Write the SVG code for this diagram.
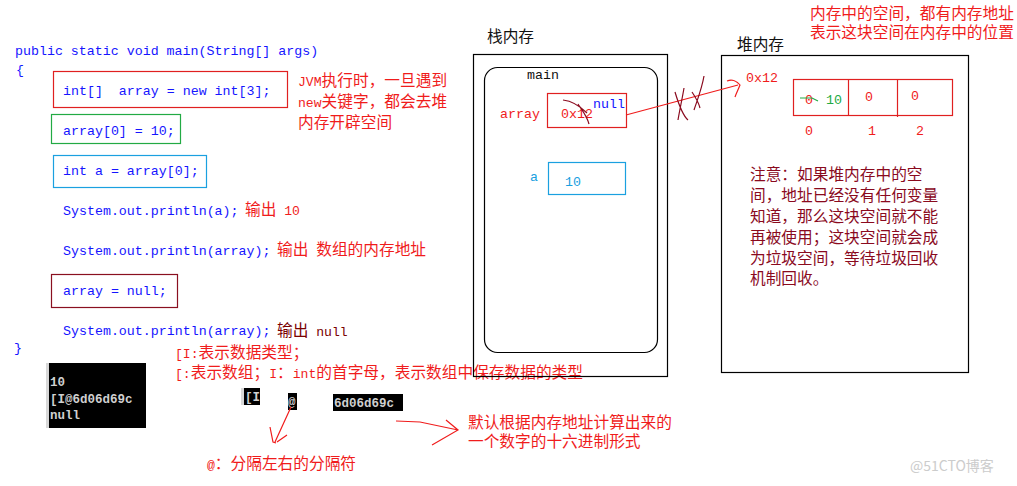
<svg xmlns="http://www.w3.org/2000/svg" width="1017" height="486" viewBox="0 0 1017 486">
<style>
.code{font-family:"Liberation Mono","Noto Sans CJK SC",monospace;font-size:13.3px;fill:#1515ff}
.cn{font-family:"Noto Sans CJK SC",sans-serif;font-size:15.7px}
.l{font-family:"Liberation Mono",monospace;font-size:13.1px}
.red{fill:#f01c1c}
.dred{fill:#8a0a1e}
.blk{fill:#111}
.mono{font-family:"Liberation Mono","Noto Sans CJK SC",monospace;font-size:13.3px}
.con{font-family:"Liberation Mono",monospace;font-size:12.5px;font-weight:bold;fill:#d0d0d0}
.box{fill:none;stroke-width:1.2}
.frame{fill:none;stroke:#000;stroke-width:1.2}
.rl{fill:none;stroke:#f01c1c;stroke-width:1.2}
.scr{fill:none;stroke:#8a0a1e;stroke-width:1.2}
</style>

<g id="code">
<text class="code" x="15" y="55">public static void main(String[] args)</text>
<text class="code" x="16" y="74">{</text>
<g id="line1"><rect class="box" x="53.5" y="71.5" width="234" height="36" stroke="#e02020"/><text class="code" x="63" y="95" xml:space="preserve">int[]  array = new int[3];</text></g>
<g id="line2"><rect class="box" x="51.5" y="114.5" width="129" height="29" stroke="#22aa44"/><text class="code" x="63" y="135">array[0] = 10;</text></g>
<g id="line3"><rect class="box" x="53.5" y="155.5" width="153" height="32" stroke="#1aa0e0"/><text class="code" x="63" y="175">int a = array[0];</text></g>
<text class="code" x="63" y="215">System.out.println(a);</text>
<text class="cn red" x="245" y="215" xml:space="preserve">输出<tspan class="l"> 10</tspan></text>
<text class="code" x="63" y="255">System.out.println(array);</text>
<text class="cn red" x="277" y="255" xml:space="preserve">输出<tspan class="l"> </tspan>数组的内存地址</text>
<g id="line6"><rect class="box" x="51.5" y="274.5" width="126" height="33" stroke="#8a1020"/><text class="code" x="63" y="295">array = null;</text></g>
<text class="code" x="63" y="335">System.out.println(array);</text>
<text class="cn" x="277" y="336" fill="#7a0000" xml:space="preserve">输出<tspan class="l"> null</tspan></text>
<text class="code" x="14" y="352">}</text>
</g>

<g id="jvm-note">
<text class="cn red" x="298" y="86"><tspan class="l">JVM</tspan>执行时，一旦遇到</text>
<text class="cn red" x="298" y="107"><tspan class="l">new</tspan>关键字，都会去堆</text>
<text class="cn red" x="298" y="128">内存开辟空间</text>
</g>

<g id="type-note">
<text class="cn red" x="175" y="358"><tspan class="l">[I:</tspan>表示数据类型；</text>
<text class="cn red" x="175" y="378"><tspan class="l">[:</tspan>表示数组；<tspan class="l">I</tspan>：<tspan class="l">int</tspan>的首字母，表示数组中保存数据的类型</text>
</g>

<g id="console">
<rect x="46" y="363" width="3" height="65" fill="#d8d8d8"/>
<rect x="49" y="363" width="97" height="65" fill="#000"/>
<text class="con" x="50" y="386">10</text>
<text class="con" x="50" y="403">[I@6d06d69c</text>
<text class="con" x="50" y="419">null</text>
</g>

<g id="parts">
<rect x="241" y="388" width="3" height="17" fill="#d8d8d8"/>
<rect x="244" y="388" width="16" height="17" fill="#000"/>
<text class="con" x="245" y="401">[I</text>
<rect x="288" y="393" width="9" height="17" fill="#000"/>
<text class="con" x="288" y="406">@</text>
<rect x="333" y="394" width="70" height="17" fill="#000"/>
<text class="con" x="334" y="407">6d06d69c</text>
</g>

<g id="sep-note">
<text class="cn red" x="207" y="469"><tspan class="l">@</tspan>：分隔左右的分隔符</text>
</g>
<g id="hex-note">
<text class="cn red" x="468" y="428">默认根据内存地址计算出来的</text>
<text class="cn red" x="468" y="447">一个数字的十六进制形式</text>
</g>

<g id="stack">
<text class="cn blk" x="487" y="42">栈内存</text>
<rect class="frame" x="473.5" y="54.5" width="194" height="322"/>
<rect class="frame" x="484.5" y="67.5" width="173" height="285" rx="13"/>
<text class="mono blk" x="527" y="79">main</text>
<g id="array-var">
<text class="mono red" x="500" y="118">array</text>
<rect class="box" x="547.5" y="93.5" width="79" height="34" stroke="#e02020"/>
<text class="mono red" x="561" y="118">0x12</text>
<path class="scr" d="M563 100 C572 101 580 106 587 113 M578 104 C582 110 587 116 589 124"/>
<text class="mono" x="593" y="108" fill="#1515ff">null</text>
</g>
<g id="a-var">
<text class="mono" x="530" y="181" fill="#1aa0e0">a</text>
<rect class="box" x="548.5" y="162.5" width="77" height="32" stroke="#1aa0e0"/>
<text class="mono" x="565" y="186" fill="#1aa0e0">10</text>
</g>
</g>

<g id="heap">
<text class="cn blk" x="737" y="50">堆内存</text>
<rect class="frame" x="721.5" y="55.5" width="247" height="317"/>
<text class="mono red" x="746" y="82">0x12</text>
<g id="array-obj">
<rect class="box" x="793.5" y="79.5" width="159" height="36" stroke="#e02020"/>
<line x1="848.5" y1="79" x2="848.5" y2="116" stroke="#e02020" stroke-width="1.2"/>
<line x1="897.5" y1="79" x2="897.5" y2="117" stroke="#e02020" stroke-width="1.2"/>
<text class="mono red" x="805" y="104">0</text>
<path d="M800 98 L812 98 L818 101" fill="none" stroke="#22aa44" stroke-width="1.2"/>
<text class="mono" x="826" y="104" fill="#22aa44">10</text>
<text class="mono red" x="865" y="101">0</text>
<text class="mono red" x="911" y="100">0</text>
<text class="mono red" x="805" y="135">0</text>
<text class="mono red" x="868" y="135">1</text>
<text class="mono red" x="916" y="135">2</text>
</g>
<g id="gc-note">
<text class="cn dred" x="750" y="180">注意：如果堆内存中的空</text>
<text class="cn dred" x="750" y="201">间，地址已经没有任何变量</text>
<text class="cn dred" x="750" y="222">知道，那么这块空间就不能</text>
<text class="cn dred" x="750" y="243">再被使用；这块空间就会成</text>
<text class="cn dred" x="750" y="264">为垃圾空间，等待垃圾回收</text>
<text class="cn dred" x="750" y="284">机制回收。</text>
</g>
</g>

<g id="addr-note">
<text class="cn red" x="810" y="19">内存中的空间，都有内存地址</text>
<text class="cn red" x="810" y="38">表示这块空间在内存中的位置</text>
</g>

<g id="connectors">
<path class="rl" d="M626 115 L738 85"/>
<path class="rl" d="M727 81 C732 79 737 81 740 85 C738 90 736 94 735 97"/>
<path class="scr" d="M675 92 C678 102 682 115 688 120 M684 88 C682 100 680 108 678 120"/>
<path class="scr" d="M704 76 C702 88 698 98 694 110 M692 92 C696 98 699 104 700 108"/>
<path class="rl" d="M291 407 L275 442 M270 427 L273 442 L276 443 M287 435 L277 442"/>
<path class="rl" d="M396 421 L420 422 L458 430 M446 420 L458 430 L432 445"/>
</g>

<text x="910" y="471" font-family="'Noto Sans CJK SC',sans-serif" font-size="14" fill="#cccccc">@51CTO博客</text>
</svg>
